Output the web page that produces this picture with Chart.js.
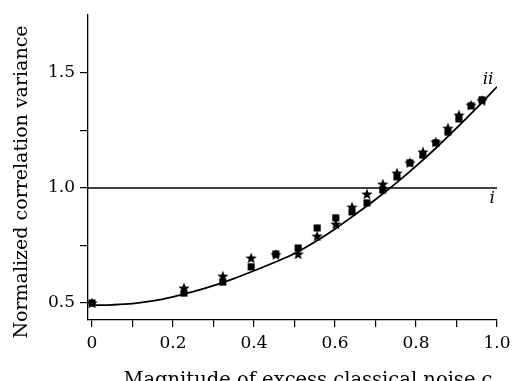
<!DOCTYPE html>
<html>
<head>
<meta charset="utf-8">
<script src="https://cdn.jsdelivr.net/npm/chart.js@4/dist/chart.umd.min.js"></script>
<style>
  html, body { margin: 0; padding: 0; background: #fff; }
  #wrap { width: 513px; height: 381px; }
</style>
</head>
<body>
<div id="wrap"><canvas id="chart"></canvas></div>
<script>
const squareC = [0, 0.227, 0.323, 0.393, 0.454, 0.509, 0.556, 0.602, 0.642, 0.679, 0.718, 0.753, 0.785, 0.817, 0.849, 0.879, 0.906, 0.936, 0.963];
const squareV = [0.50, 0.543, 0.591, 0.657, 0.713, 0.739, 0.826, 0.870, 0.896, 0.935, 0.991, 1.048, 1.109, 1.143, 1.196, 1.243, 1.300, 1.357, 1.383];
const starC = [0, 0.227, 0.323, 0.393, 0.454, 0.509, 0.556, 0.602, 0.642, 0.679, 0.718, 0.753, 0.785, 0.817, 0.849, 0.879, 0.906, 0.936, 0.963];
const starV = [0.50, 0.565, 0.617, 0.696, 0.71, 0.713, 0.791, 0.843, 0.917, 0.974, 1.017, 1.065, 1.11, 1.157, 1.20, 1.26, 1.317, 1.36, 1.38];

// Theory curve ii
const curveC = [0, 0.05, 0.1, 0.15, 0.2, 0.25, 0.3, 0.35, 0.4, 0.45, 0.5, 0.55, 0.6, 0.65, 0.7, 0.75, 0.8, 0.85, 0.9, 0.95, 1.0];
const curveV = [0.49, 0.492, 0.497, 0.509, 0.527, 0.549, 0.575, 0.606, 0.64, 0.676, 0.715, 0.765, 0.822, 0.885, 0.95, 1.02, 1.095, 1.175, 1.26, 1.348, 1.44];

// Classical limit i
const limitC = [-0.0099, 1.0];
const limitV = [1.0, 1.0];

const yTicks = [0.5, 0.75, 1.0, 1.25, 1.5];
const xTicks = [0, 0.1, 0.2, 0.3, 0.4, 0.5, 0.6, 0.7, 0.8, 0.9, 1.0];

const xTitle = 'Magnitude of excess classical noise c';
const yTitle = 'Normalized correlation variance';

const serif = "'DejaVu Serif', serif";

// filled five-pointed star marker
function makeStar(size) {
    const c = document.createElement('canvas');
    c.width = size; c.height = size;
    const g = c.getContext('2d');
    const cx = size / 2, cy = size / 2 + 0.5;
    const R = size / 2, r = R * 0.42;
    g.beginPath();
    for (let i = 0; i < 10; i++) {
        const rad = i % 2 === 0 ? R : r;
        const a = -Math.PI / 2 + i * Math.PI / 5;
        const px = cx + rad * Math.cos(a), py = cy + rad * Math.sin(a);
        if (i === 0) g.moveTo(px, py); else g.lineTo(px, py);
    }
    g.closePath();
    g.fillStyle = '#000';
    g.fill();
    return c;
}
const starImg = makeStar(12);

const pts = (xs, ys) => xs.map((x, i) => ({ x: x, y: ys[i] }));

// curve labels and axis titles (titles sit off-centre in the original)
const textLayer = {
    id: 'textLayer',
    afterDatasetsDraw(chart) {
        const { ctx, scales: { x, y } } = chart;
        ctx.save();
        ctx.fillStyle = '#000';
        ctx.textAlign = 'center';
        ctx.textBaseline = 'middle';
        ctx.font = "italic 17px " + serif;
        ctx.fillText('ii', x.getPixelForValue(0.978), y.getPixelForValue(1.47));
        ctx.fillText('i', x.getPixelForValue(0.988), y.getPixelForValue(0.955));

        ctx.font = "19.5px " + serif;
        ctx.textBaseline = 'alphabetic';
        ctx.fillText(xTitle, 308, 386);

        ctx.font = "19px " + serif;
        ctx.translate(22, 182);
        ctx.rotate(-Math.PI / 2);
        ctx.textBaseline = 'middle';
        ctx.fillText(yTitle, 0, 0);
        ctx.restore();
    }
};

new Chart(document.getElementById('chart'), {
    type: 'scatter',
    data: {
        datasets: [
            {
                label: 'i',
                type: 'line',
                data: pts(limitC, limitV),
                borderColor: '#000',
                borderWidth: 1.5,
                pointRadius: 0,
                fill: false,
                order: 4
            },
            {
                label: 'ii',
                type: 'line',
                data: pts(curveC, curveV),
                borderColor: '#000',
                borderWidth: 1.8,
                pointRadius: 0,
                cubicInterpolationMode: 'monotone',
                fill: false,
                order: 3
            },
            {
                label: 'stars',
                data: pts(starC, starV),
                pointStyle: starImg,
                pointRadius: 6,
                order: 2
            },
            {
                label: 'squares',
                data: pts(squareC, squareV),
                pointStyle: 'rect',
                pointRadius: 5,
                backgroundColor: '#000',
                borderColor: '#000',
                borderWidth: 0,
                order: 1
            }
        ]
    },
    options: {
        responsive: true,
        maintainAspectRatio: false,
        animation: false,
        layout: { padding: { top: 15, right: 16, left: 0, bottom: 0 } },
        plugins: {
            legend: { display: false },
            tooltip: { enabled: false }
        },
        scales: {
            x: {
                type: 'linear',
                min: -0.0099,
                max: 1.0,
                afterBuildTicks: (s) => { s.ticks = xTicks.map(v => ({ value: v })); },
                afterFit: (s) => { s.height = 61; s.paddingRight = 0; s.paddingLeft = 0; },
                border: { color: '#000', width: 1.3 },
                grid: { drawOnChartArea: false, drawTicks: true, tickLength: 7, tickColor: '#000', lineWidth: 1.2 },
                ticks: {
                    color: '#000',
                    padding: 6,
                    maxRotation: 0,
                    autoSkip: false,
                    font: { family: serif, size: 17 },
                    callback: (v) => {
                        const k = Math.round(v * 10);
                        if (k % 2 !== 0) return '';
                        return k === 0 ? '0' : (k / 10).toFixed(1);
                    }
                }
            },
            y: {
                type: 'linear',
                min: 0.426,
                max: 1.752,
                afterBuildTicks: (s) => { s.ticks = yTicks.map(v => ({ value: v })); },
                afterFit: (s) => { s.width = 88; s.paddingTop = 0; s.paddingBottom = 0; },
                border: { color: '#000', width: 1.3 },
                grid: { drawOnChartArea: false, drawTicks: true, tickLength: 8, tickColor: '#000', lineWidth: 1.2 },
                ticks: {
                    color: '#000',
                    padding: 5,
                    font: { family: serif, size: 17 },
                    callback: (v) => (Math.round(v * 4) % 2 === 0 ? v.toFixed(1) : '')
                }
            }
        }
    },
    plugins: [textLayer]
});
</script>
</body>
</html>
